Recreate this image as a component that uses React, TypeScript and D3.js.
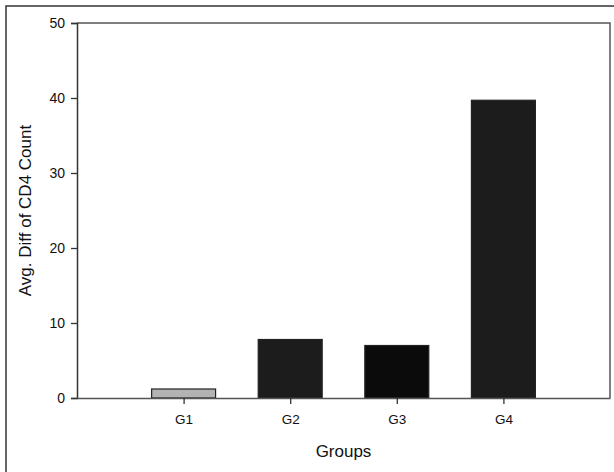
import React, { useRef, useEffect } from 'react';
import * as d3 from 'd3';

const groups = ['G1', 'G2', 'G3', 'G4'];
const values = [1.2, 7.8, 7.0, 39.7];
const barColors = ['#b3b3b3', '#1c1c1c', '#0b0b0b', '#1c1c1c'];
const yTicks = [0, 10, 20, 30, 40, 50];

const W = 614;
const H = 472;

const App: React.FC = () => {
  const ref = useRef<SVGSVGElement | null>(null);

  useEffect(() => {
    if (!ref.current) return;
    const svg = d3.select(ref.current);
    svg.selectAll('*').remove();

    const left = 77;
    const right = 610;
    const top = 23;
    const bottom = 398;
    const font = '"Liberation Sans", Arial, sans-serif';

    // outer frame of the figure
    svg.append('rect')
      .attr('x', 6).attr('y', 6)
      .attr('width', W + 20).attr('height', H + 20)
      .attr('fill', '#fff')
      .attr('stroke', '#333')
      .attr('stroke-width', 1.5);

    // categories sit at 1..4 on a 0..5 linear scale
    const x = d3.scaleLinear().domain([0, groups.length + 1]).range([left, right]);
    const y = d3.scaleLinear().domain([0, 50]).range([bottom, top]);
    const step = x(1) - x(0);
    const barW = step * 0.6;

    // bars
    svg.append('g')
      .selectAll('rect')
      .data(values)
      .enter()
      .append('rect')
      .attr('x', (_, i) => x(i + 1) - barW / 2)
      .attr('y', d => y(d))
      .attr('width', barW)
      .attr('height', d => y(0) - y(d))
      .attr('fill', (_, i) => barColors[i])
      .attr('stroke', '#222')
      .attr('stroke-width', 1.2);

    // top and right frame
    svg.append('path')
      .attr('d', `M${left},${top}H${right}V${bottom}`)
      .attr('fill', 'none')
      .attr('stroke', '#555')
      .attr('stroke-width', 1.5);

    // y axis
    const yAxis = svg.append('g')
      .attr('transform', `translate(${left},0)`)
      .call(d3.axisLeft(y).tickValues(yTicks).tickSize(6).tickPadding(6).tickFormat(d3.format('d')));
    yAxis.select('.domain').attr('stroke', '#333').attr('stroke-width', 1.5);
    yAxis.selectAll('line').attr('stroke', '#333').attr('stroke-width', 1.3);
    yAxis.selectAll('text')
      .attr('font-family', font)
      .attr('font-size', 14)
      .attr('fill', '#111');

    // x axis
    const xAxis = svg.append('g')
      .attr('transform', `translate(0,${bottom})`)
      .call(d3.axisBottom(x)
        .tickValues(groups.map((_, i) => i + 1))
        .tickSize(6)
        .tickSizeOuter(0)
        .tickPadding(10)
        .tickFormat(d => groups[(d as number) - 1]));
    xAxis.select('.domain').attr('stroke', '#555').attr('stroke-width', 1.5);
    xAxis.selectAll('line').attr('stroke', '#333').attr('stroke-width', 1.3);
    xAxis.selectAll('text')
      .attr('font-family', font)
      .attr('font-size', 13.5)
      .attr('fill', '#111');

    // axis titles
    svg.append('text')
      .attr('x', (left + right) / 2)
      .attr('y', 457)
      .attr('text-anchor', 'middle')
      .attr('font-family', font)
      .attr('font-size', 17)
      .attr('fill', '#111')
      .text('Groups');

    svg.append('text')
      .attr('transform', `translate(31,${(top + bottom) / 2}) rotate(-90)`)
      .attr('text-anchor', 'middle')
      .attr('font-family', font)
      .attr('font-size', 17)
      .attr('fill', '#111')
      .text('Avg. Diff of CD4 Count');
  }, []);

  return (
    <svg
      ref={ref}
      width={W}
      height={H}
      style={{ position: 'absolute', left: 0, top: 0, background: '#fff' }}
    />
  );
};

export default App;
